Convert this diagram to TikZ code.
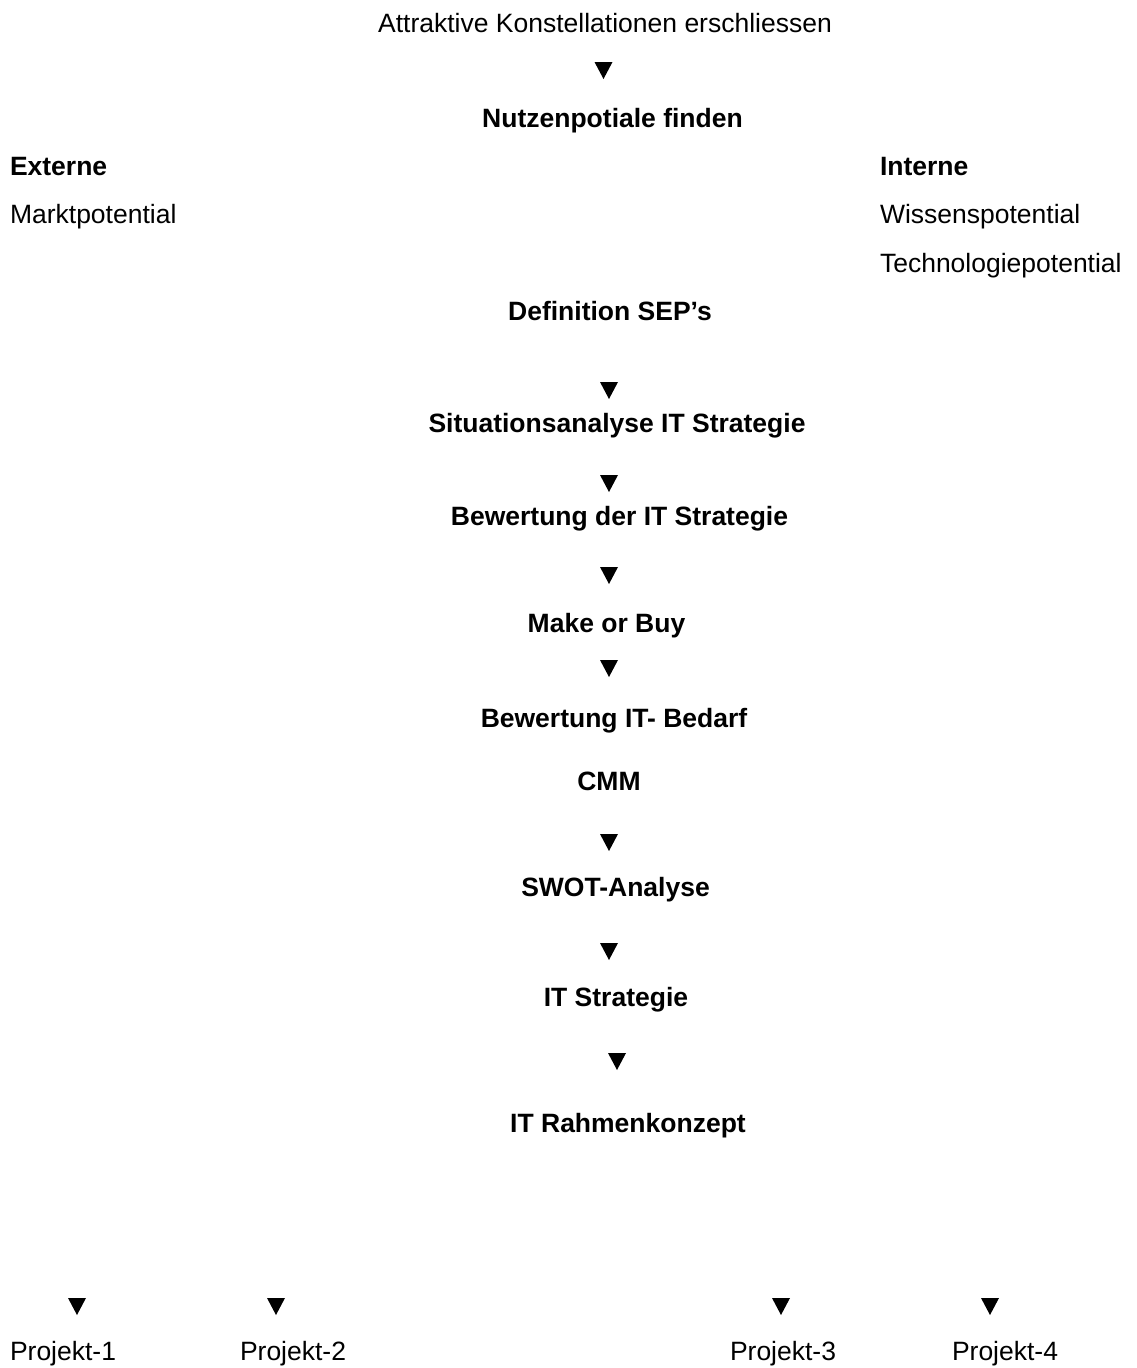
\documentclass[tikz,border=0pt]{standalone}
\usepackage{fontspec}
\setmainfont{Liberation Sans}
\begin{document}
\begin{tikzpicture}[x=1pt,y=-1pt,
  txt/.style={inner sep=0pt,outer sep=0pt,font=\fontsize{26.5}{30}\selectfont},
  btxt/.style={txt,font=\fontsize{26.5}{30}\selectfont\bfseries},
  tri/.style={fill=black}]
\useasboundingbox (0,0) rectangle (1136,1368);
\newcommand\dtri[3]{\fill[tri] (#1,#2) ++(-9,0) -- ++(18,0) -- ++(-9,17) -- cycle; \coordinate (#3) at (#1,#2);}
% top
\node[txt,anchor=base] (attr) at (605,32) {Attraktive Konstellationen erschliessen};
\dtri{603.5}{62}{t1}
\node[btxt,anchor=base] (nutz) at (612.5,127.5) {Nutzenpotiale finden};
\node[btxt,anchor=base west] (ext) at (10,175.5) {Externe};
\node[btxt,anchor=base west] (int) at (880,175.5) {Interne};
\node[txt,anchor=base west] (markt) at (10,223.5) {Marktpotential};
\node[txt,anchor=base west] (wiss) at (880,223.5) {Wissenspotential};
\node[txt,anchor=base west] (tech) at (880,272) {Technologiepotential};
\node[btxt,anchor=base] (sep) at (610,320) {Definition SEP’s};
\dtri{609}{382}{t2}
\node[btxt,anchor=base] (sit) at (617,432) {Situationsanalyse IT Strategie};
\dtri{609}{475}{t3}
\node[btxt,anchor=base] (bew) at (619.5,525) {Bewertung der IT Strategie};
\dtri{609}{567}{t4}
\node[btxt,anchor=base] (make) at (606.5,632) {Make or Buy};
\dtri{609}{660}{t5}
\node[btxt,anchor=base] (bed) at (614,727) {Bewertung IT- Bedarf};
\node[btxt,anchor=base] (cmm) at (609,790) {CMM};
\dtri{609}{834}{t6}
\node[btxt,anchor=base] (swot) at (615.5,896) {SWOT-Analyse};
\dtri{609}{943}{t7}
\node[btxt,anchor=base] (its) at (616,1006) {IT Strategie};
\dtri{617}{1053}{t8}
\node[btxt,anchor=base] (rahmen) at (628,1132) {IT Rahmenkonzept};
% bottom
\dtri{77}{1298}{b1}
\dtri{276}{1298}{b2}
\dtri{781}{1298}{b3}
\dtri{990}{1298}{b4}
\node[txt,anchor=base west] (p1) at (10,1360) {Projekt-1};
\node[txt,anchor=base west] (p2) at (240,1360) {Projekt-2};
\node[txt,anchor=base west] (p3) at (730,1360) {Projekt-3};
\node[txt,anchor=base west] (p4) at (952,1360) {Projekt-4};
\end{tikzpicture}
\end{document}
